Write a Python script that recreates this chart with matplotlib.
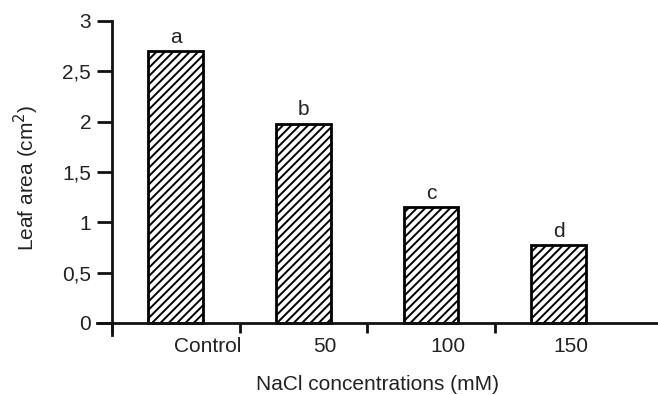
import matplotlib
matplotlib.use('Agg')
import matplotlib.pyplot as plt

# data
categories = ['Control', '50', '100', '150']
leaf_area = [2.70, 1.98, 1.15, 0.77]
letters = ['a', 'b', 'c', 'd']
yticks = [0, 0.5, 1, 1.5, 2, 2.5, 3]
ytick_labels = ['0', '0,5', '1', '1,5', '2', '2,5', '3']

plt.rcParams['font.family'] = ['Liberation Sans', 'DejaVu Sans']
plt.rcParams['hatch.linewidth'] = 1.4
plt.rcParams['hatch.color'] = 'black'

fig = plt.figure(figsize=(6.58, 3.95), dpi=100)
ax = fig.add_axes([0.147, 0.152, 0.853, 0.795])

x = list(range(len(categories)))
bars = ax.bar(x, leaf_area, width=0.43, color='white', edgecolor='black',
              linewidth=2, hatch='////', zorder=2)

for rect, lab in zip(bars, letters):
    ax.annotate(lab, (rect.get_x() + rect.get_width() / 2, rect.get_height()),
                xytext=(0, 3), textcoords='offset points',
                ha='center', va='bottom', fontsize=15, color='#222222')

ax.set_xlim(-0.62, 3.78)
ax.set_ylim(-0.12, 3)

# axes: left spine at the group start, bottom spine at zero
ax.spines['top'].set_visible(False)
ax.spines['right'].set_visible(False)
ax.spines['left'].set_position(('data', -0.5))
ax.spines['bottom'].set_position(('data', 0))
for s in ('left', 'bottom'):
    ax.spines[s].set_linewidth(2)
    ax.spines[s].set_color('#111111')

ax.set_yticks(yticks)
ax.set_yticklabels(ytick_labels)
ax.tick_params(axis='y', length=11, width=2, color='#111111', pad=4,
               labelsize=15, labelcolor='#222222')

# category labels sit slightly right of the bars
label_pos = [0.25, 1.17, 2.13, 3.10]
ax.set_xticks(label_pos)
ax.set_xticklabels(categories)
ax.set_xticks([-0.5, 0.5, 1.5, 2.5], minor=True)
ax.tick_params(axis='x', which='major', length=0, pad=10,
               labelsize=15, labelcolor='#222222')
ax.tick_params(axis='x', which='minor', length=7, width=2, color='#111111',
               direction='out')

ax.set_xlabel('NaCl concentrations (mM)', fontsize=15, color='#222222', labelpad=14)
ax.set_ylabel('Leaf area (cm$^2$)', fontsize=15, color='#222222', labelpad=15)

fig.savefig('out.png', dpi=100)
